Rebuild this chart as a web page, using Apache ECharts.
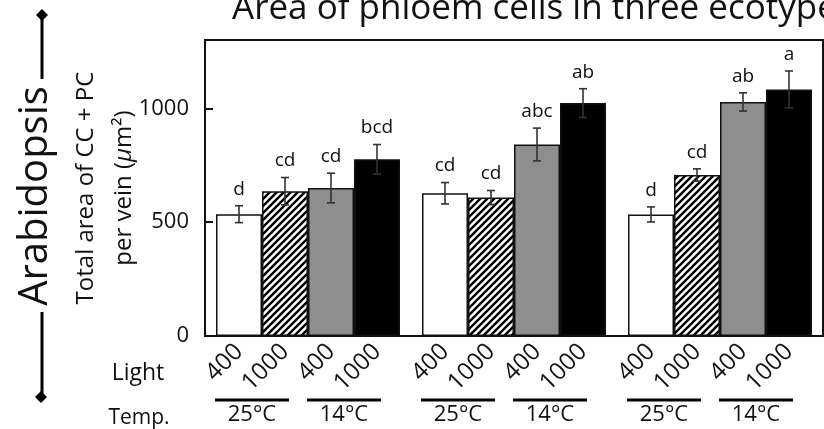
<!DOCTYPE html>
<html lang="en">
	<head>
		<meta charset="UTF-8" />
		<title>Area of phloem cells</title>
		<style>
			html, body { margin: 0; padding: 0; background: #fff; }
			#phloem-chart { width: 824px; height: 429px; }
		</style>
	</head>
	<body>
		<div id="phloem-chart"></div>
		<script src="https://cdn.jsdelivr.net/npm/echarts@6/dist/echarts.min.js"></script>
		<script>
			// three ecotypes, four treatments each (light x temperature)
			const groups = ["eco1", "eco2", "eco3"];
			const lightLabels = ["400", "1000", "400", "1000"];
			const tempLabels = ["25°C", "14°C"];
			const yTicks = [0, 500, 1000];

			const white25 = [535, 627, 534];
			const hatch25 = [636, 608, 707];
			const gray14 = [650, 841, 1028];
			const black14 = [776, 1023, 1083];

			const errWhite = [37, 47, 33];
			const errHatch = [60, 31, 27];
			const errGray = [65, 72, 40];
			const errBlack = [65, 63, 81];

			const letWhite = ["d", "cd", "d"];
			const letHatch = ["cd", "cd", "cd"];
			const letGray = ["cd", "abc", "ab"];
			const letBlack = ["bcd", "ab", "a"];

			window.onload = function () {
				const chart = echarts.init(document.getElementById("phloem-chart"));
				const FONT = "Open Sans";
				const BAR_W = 46;

				// diagonal hatch pattern
				const tile = document.createElement("canvas");
				tile.width = 7;
				tile.height = 7;
				const ctx = tile.getContext("2d");
				ctx.fillStyle = "#fff";
				ctx.fillRect(0, 0, 7, 7);
				ctx.strokeStyle = "#000";
				ctx.lineWidth = 2.4;
				ctx.beginPath();
				ctx.moveTo(-1, 8); ctx.lineTo(8, -1);
				ctx.moveTo(-1, 1); ctx.lineTo(1, -1);
				ctx.moveTo(6, 8); ctx.lineTo(8, 6);
				ctx.stroke();

				const values = [white25, hatch25, gray14, black14];
				const errs = [errWhite, errHatch, errGray, errBlack];
				const letters = [letWhite, letHatch, letGray, letBlack];
				const fills = ["#ffffff", { image: tile, repeat: "repeat" }, "#8e8e8e", "#000000"];

				const barSeries = values.map(function (vals, s) {
					return {
						type: "bar",
						data: vals,
						barWidth: BAR_W,
						barGap: "0%",
						itemStyle: { color: fills[s], borderColor: "#111", borderWidth: 1.5 },
						label: {
							show: true,
							position: "bottom",
							distance: 12,
							rotate: 45,
							align: "right",
							verticalAlign: "middle",
							offset: [0, 0],
							formatter: lightLabels[s],
							fontFamily: FONT,
							fontSize: 24,
							color: "#111",
						},
						silent: true,
						z: 2,
					};
				});

				// error bars + significance letters
				const errData = [];
				values.forEach(function (vals, s) {
					vals.forEach(function (v, g) {
						errData.push([g, s, v, errs[s][g]]);
					});
				});

				const errSeries = {
					type: "custom",
					data: errData,
					z: 5,
					silent: true,
					renderItem: function (params, api) {
						const g = api.value(0), s = api.value(1), v = api.value(2), e = api.value(3);
						const hi = api.coord([g, v + e]);
						const lo = api.coord([g, v - e]);
						const x = hi[0] + (s - 1.5) * BAR_W;
						const st = { stroke: "#333", lineWidth: 1.6 };
						return {
							type: "group",
							children: [
								{ type: "line", shape: { x1: x, y1: hi[1], x2: x, y2: lo[1] }, style: st },
								{ type: "line", shape: { x1: x - 4, y1: hi[1], x2: x + 4, y2: hi[1] }, style: st },
								{ type: "line", shape: { x1: x - 4, y1: lo[1], x2: x + 4, y2: lo[1] }, style: st },
								{
									type: "text",
									x: x,
									y: hi[1] - 7,
									style: {
										text: letters[s][g],
										align: "center",
										verticalAlign: "bottom",
										fontFamily: FONT,
										fontSize: 19,
										fill: "#111",
									},
								},
							],
						};
					},
				};

				// temperature brackets under each pair of bars
				const tempData = [];
				groups.forEach(function (name, g) {
					tempLabels.forEach(function (t, p) {
						tempData.push([g, p]);
					});
				});
				const tempSeries = {
					type: "custom",
					data: tempData,
					silent: true,
					clip: false,
					renderItem: function (params, api) {
						const g = api.value(0), p = api.value(1);
						const base = api.coord([g, 0]);
						const x = base[0] + (p - 0.5) * 2 * BAR_W - 10;
						const y = base[1] + 64;
						return {
							type: "group",
							children: [
								{ type: "line", shape: { x1: x - 37, y1: y, x2: x + 37, y2: y }, style: { stroke: "#000", lineWidth: 3 } },
								{
									type: "text",
									x: x,
									y: y + 4,
									style: {
										text: tempLabels[p],
										align: "center",
										verticalAlign: "top",
										fontFamily: FONT,
										fontSize: 22,
										fill: "#111",
									},
								},
							],
						};
					},
				};

				const option = {
					animation: false,
					title: {
						text: "Area of phloem cells in three ecotypes",
						left: 227,
						top: -13,
						textStyle: { fontFamily: FONT, fontSize: 35, fontWeight: "normal", color: "#111" },
					},
					grid: {
						left: 205,
						right: 1,
						top: 40,
						bottom: 93,
						show: true,
						borderColor: "#111",
						borderWidth: 2,
					},
					xAxis: {
						type: "category",
						data: groups,
						axisLine: { lineStyle: { color: "#111", width: 2 } },
						axisTick: { show: false },
						axisLabel: { show: false },
					},
					yAxis: {
						type: "value",
						min: yTicks[0],
						max: 1300,
						interval: yTicks[1] - yTicks[0],
						name: "Total area of CC + PC\nper vein ({i|μ}m²)",
						nameLocation: "middle",
						nameGap: 62,
						nameMoveOverlap: false,
						nameTextStyle: {
							fontFamily: FONT,
							fontSize: 24,
							lineHeight: 38,
							color: "#111",
							rich: { i: { fontFamily: FONT, fontSize: 24, fontStyle: "italic", color: "#111" } },
						},
						axisLine: { show: true, lineStyle: { color: "#111", width: 2 } },
						axisTick: { show: true, inside: true, length: 8, lineStyle: { color: "#111", width: 2 } },
						axisLabel: {
							fontFamily: FONT,
							fontSize: 22,
							color: "#111",
							margin: 16,
							showMaxLabel: false,
							formatter: function (v) { return String(v); },
						},
						splitLine: { show: false },
					},
					graphic: [
						{
							type: "text",
							x: 36,
							y: 196,
							rotation: Math.PI / 2,
							style: { text: "Arabidopsis", fontFamily: FONT, fontSize: 40, fill: "#111", align: "center", verticalAlign: "middle" },
						},
						{ type: "line", shape: { x1: 42, y1: 18, x2: 42, y2: 79 }, style: { stroke: "#000", lineWidth: 3 } },
						{ type: "line", shape: { x1: 42, y1: 312, x2: 42, y2: 394 }, style: { stroke: "#000", lineWidth: 3 } },
						{ type: "polygon", shape: { points: [[42, 9], [48, 15], [42, 21], [36, 15]] }, style: { fill: "#000" } },
						{ type: "polygon", shape: { points: [[41, 391], [47, 397], [41, 403], [35, 397]] }, style: { fill: "#000" } },
						{
							type: "text",
							x: 138,
							y: 373,
							style: { text: "Light", fontFamily: FONT, fontSize: 23, fill: "#111", align: "center", verticalAlign: "middle" },
						},
						{
							type: "text",
							x: 139,
							y: 418,
							style: { text: "Temp.", fontFamily: FONT, fontSize: 21, fill: "#111", align: "center", verticalAlign: "middle" },
						},
					],
					series: barSeries.concat([errSeries, tempSeries]),
				};
				chart.setOption(option);
			};
		</script>
	</body>
</html>
